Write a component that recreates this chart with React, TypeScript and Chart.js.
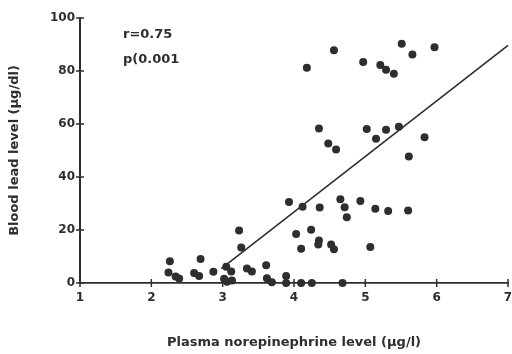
import { useEffect, useRef } from "react";
import { Chart, registerables } from "chart.js";

Chart.register(...registerables);

// Plasma norepinephrine (µg/l) and blood lead (µg/dl) per subject
const plasmaNorepinephrine = [
  4.18, 4.56, 4.97, 5.21, 5.29, 5.4, 5.51, 5.66, 5.97,
  4.35, 4.48, 4.59, 5.02, 5.15, 5.29, 5.47, 5.83, 5.61,
  3.93, 4.12, 4.36, 4.65, 4.71, 4.74, 4.93, 5.14, 5.32, 5.6,
  4.03, 4.24, 4.35, 4.34, 4.52, 4.56, 4.1, 5.07,
  2.26, 2.24, 2.34, 2.39, 2.69, 2.6, 2.67, 2.87,
  3.23, 3.26, 3.05, 3.12, 3.02, 3.06, 3.13, 3.34, 3.41,
  3.61, 3.62, 3.69, 3.89, 3.89, 4.1, 4.25, 4.68,
];
const bloodLead = [
  81.2, 87.8, 83.4, 82.3, 80.5, 79.0, 90.3, 86.2, 89.0,
  58.3, 52.6, 50.4, 58.1, 54.4, 57.8, 59.0, 55.0, 47.7,
  30.6, 28.8, 28.5, 31.6, 28.6, 24.8, 30.9, 28.0, 27.2, 27.4,
  18.5, 20.1, 16.0, 14.5, 14.5, 12.7, 12.9, 13.6,
  8.2, 4.0, 2.5, 1.7, 9.1, 3.8, 2.6, 4.2,
  19.8, 13.4, 6.1, 4.3, 1.6, 0.5, 0.9, 5.5, 4.3,
  6.7, 1.8, 0.3, 2.6, 0, 0, 0, 0,
];

// Regression line end points
const fitX = [2.98, 7];
const fitY = [5.4, 89.7];

const xTicks = [1, 2, 3, 4, 5, 6, 7];
const yTicks = [0, 20, 40, 60, 80, 100];
const statLines = ["r=0.75", "p(0.001"];

const INK = "#2e2e2e";
const FONT = "'DejaVu Sans', sans-serif";

// Tick marks crossing both axes plus the correlation note
const axisMarks = {
  id: "axisMarks",
  afterDraw(chart: any) {
    const { ctx, chartArea, scales } = chart;
    const xs = scales.x;
    const ys = scales.y;
    ctx.save();
    ctx.strokeStyle = INK;
    ctx.lineWidth = 1.5;
    xTicks.forEach((v) => {
      const px = xs.getPixelForValue(v);
      ctx.beginPath();
      ctx.moveTo(px, chartArea.bottom - 4);
      ctx.lineTo(px, chartArea.bottom + 4);
      ctx.stroke();
    });
    yTicks.forEach((v) => {
      const py = ys.getPixelForValue(v);
      ctx.beginPath();
      ctx.moveTo(chartArea.left - 4, py);
      ctx.lineTo(chartArea.left + 4, py);
      ctx.stroke();
    });
    ctx.fillStyle = INK;
    ctx.font = `bold 13px ${FONT}`;
    ctx.textAlign = "left";
    ctx.textBaseline = "middle";
    statLines.forEach((t, i) => {
      ctx.fillText(t, chartArea.left + 43, chartArea.top + 17 + i * 25);
    });
    ctx.restore();
  },
};

export default function App() {
  const ref = useRef<HTMLCanvasElement | null>(null);

  useEffect(() => {
    if (!ref.current) return;
    const points = plasmaNorepinephrine.map((x, i) => ({ x, y: bloodLead[i] }));
    const fit = fitX.map((x, i) => ({ x, y: fitY[i] }));

    const chart = new Chart(ref.current, {
      type: "scatter",
      data: {
        datasets: [
          {
            data: points,
            pointRadius: 4,
            pointBackgroundColor: INK,
            pointBorderWidth: 0,
            clip: false,
          } as any,
          {
            data: fit,
            showLine: true,
            pointRadius: 0,
            borderColor: INK,
            borderWidth: 1.6,
            clip: false,
          } as any,
        ],
      },
      options: {
        animation: false,
        responsive: false,
        maintainAspectRatio: false,
        layout: { padding: { top: 18, right: 0, bottom: 0, left: 0 } },
        plugins: {
          legend: { display: false },
          tooltip: { enabled: false },
        },
        scales: {
          x: {
            type: "linear",
            min: 1,
            max: 7,
            afterBuildTicks: (s: any) => {
              s.ticks = xTicks.map((v) => ({ value: v }));
            },
            afterFit: (s: any) => {
              s.height = 71;
              s.paddingLeft = 0;
              s.paddingRight = 0;
            },
            grid: { display: true, drawOnChartArea: false, drawTicks: false },
            border: { display: true, color: INK, width: 1.8 },
            ticks: {
              color: INK,
              padding: 8,
              font: { family: FONT, size: 12, weight: "bold" },
              maxRotation: 0,
              autoSkip: false,
            },
            title: {
              display: true,
              text: "Plasma norepinephrine level (μg/l)",
              color: INK,
              font: { family: FONT, size: 13, weight: "bold" },
              padding: { top: 0, bottom: 4 },
            },
          },
          y: {
            type: "linear",
            min: 0,
            max: 100,
            afterBuildTicks: (s: any) => {
              s.ticks = yTicks.map((v) => ({ value: v }));
            },
            afterFit: (s: any) => {
              s.width = 80;
              s.paddingTop = 0;
              s.paddingBottom = 0;
            },
            grid: { display: true, drawOnChartArea: false, drawTicks: false },
            border: { display: true, color: INK, width: 2 },
            ticks: {
              color: INK,
              padding: 5,
              font: { family: FONT, size: 12, weight: "bold" },
              autoSkip: false,
            },
            title: {
              display: true,
              text: "Blood lead level (μg/dl)",
              color: INK,
              font: { family: FONT, size: 13, weight: "bold" },
              padding: { top: 7, bottom: 0 },
            },
          },
        },
      },
      plugins: [axisMarks],
    });

    return () => chart.destroy();
  }, []);

  return (
    <div
      style={{
        position: "fixed",
        left: 0,
        top: 0,
        width: 512,
        height: 354,
        overflow: "hidden",
        background: "#fff",
      }}
    >
      <canvas ref={ref} width={512} height={354} />
    </div>
  );
}
